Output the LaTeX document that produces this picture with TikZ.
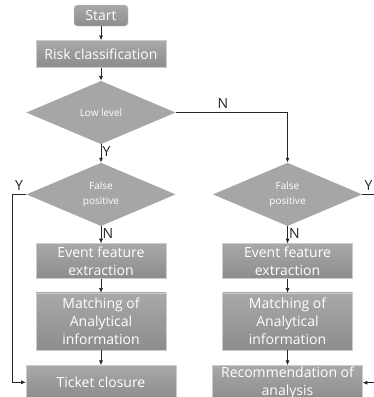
\documentclass[tikz,border=0pt]{standalone}
\usepackage{fontspec}
\setmainfont{Open Sans}
\usetikzlibrary{positioning,shapes.geometric,arrows.meta,calc}
\tikzset{
  box/.style={draw=black!20, line width=0.3pt, top color=black!34, bottom color=black!45, text=white, minimum width=97.5pt, align=center, inner sep=1pt, font=\fontsize{10.5}{13.5}\selectfont},
  widebox/.style={box, minimum width=112.5pt, minimum height=25.5pt},
  startbox/.style={box, rounded corners=2.5pt, minimum width=40.5pt, minimum height=15.75pt},
  decision/.style={diamond, fill=black!35, text=white, minimum width=112pt, minimum height=47.5pt, inner sep=0pt, align=center, font=\fontsize{7.5}{11}\selectfont},
  yn/.style={font=\fontsize{10.5}{12}\selectfont, text=black!85, inner sep=1pt},
  line/.style={draw=black!85, line width=0.5pt, -{Latex[length=3.5pt,width=3pt]}},
}

\begin{document}
\begin{tikzpicture}[x=0.75pt, y=-0.75pt]
\useasboundingbox (0,0) rectangle (374,397);
\clip (0,0) rectangle (374,397);

\node (start)  [startbox] at (101,15.5) {Start};
\node (risk)   [box, minimum height=20.25pt, below=10.5pt of start] {Risk classification};
\node (low)    [decision, below=9.75pt of risk] {Low level};
\node (fp1)    [decision, below=13.5pt of low] {False\\positive};
\node (efe1)   [box, minimum height=26.25pt, below=12.75pt of fp1] {Event feature\\extraction};
\node (match1) [box, minimum height=42.75pt, below=10.5pt of efe1] {Matching of\\Analytical\\information};
\node (ticket) [widebox, below=11.25pt of match1] {Ticket closure};

\node (fp2)    [decision, right=27.5pt of fp1] {False\\positive};
\node (efe2)   [box, minimum height=26.25pt, below=12.75pt of fp2] {Event feature\\extraction};
\node (match2) [box, minimum height=42.75pt, below=10.5pt of efe2] {Matching of\\Analytical\\information};
\node (reco)   [widebox, below=11.25pt of match2] {Recommendation of\\analysis};

% left column
\draw[line] (start) -- (risk);
\draw[line] (risk) -- (low);
\draw[line] (low) -- node[yn, right, pos=0.4] {Y} (fp1);
\draw[line] (fp1) -- node[yn, right, pos=0.45] {N} (efe1);
\draw[line] (efe1) -- (match1);
\draw[line] (match1) -- (ticket);
\draw[line] (fp1.west) -- node[yn, above=2pt] {Y} ++(-14,0) |- (ticket.west);

% right column
\draw[line] (low.east) -| node[yn, above=2pt, pos=0.21] {N} (fp2.north);
\draw[line] (fp2) -- node[yn, right, pos=0.45] {N} (efe2);
\draw[line] (efe2) -- (match2);
\draw[line] (match2) -- (reco);
\draw[line] (fp2.east) -- node[yn, above=2pt, pos=0.3] {Y} ++(20,0) |- (reco.east);
\end{tikzpicture}
\end{document}
